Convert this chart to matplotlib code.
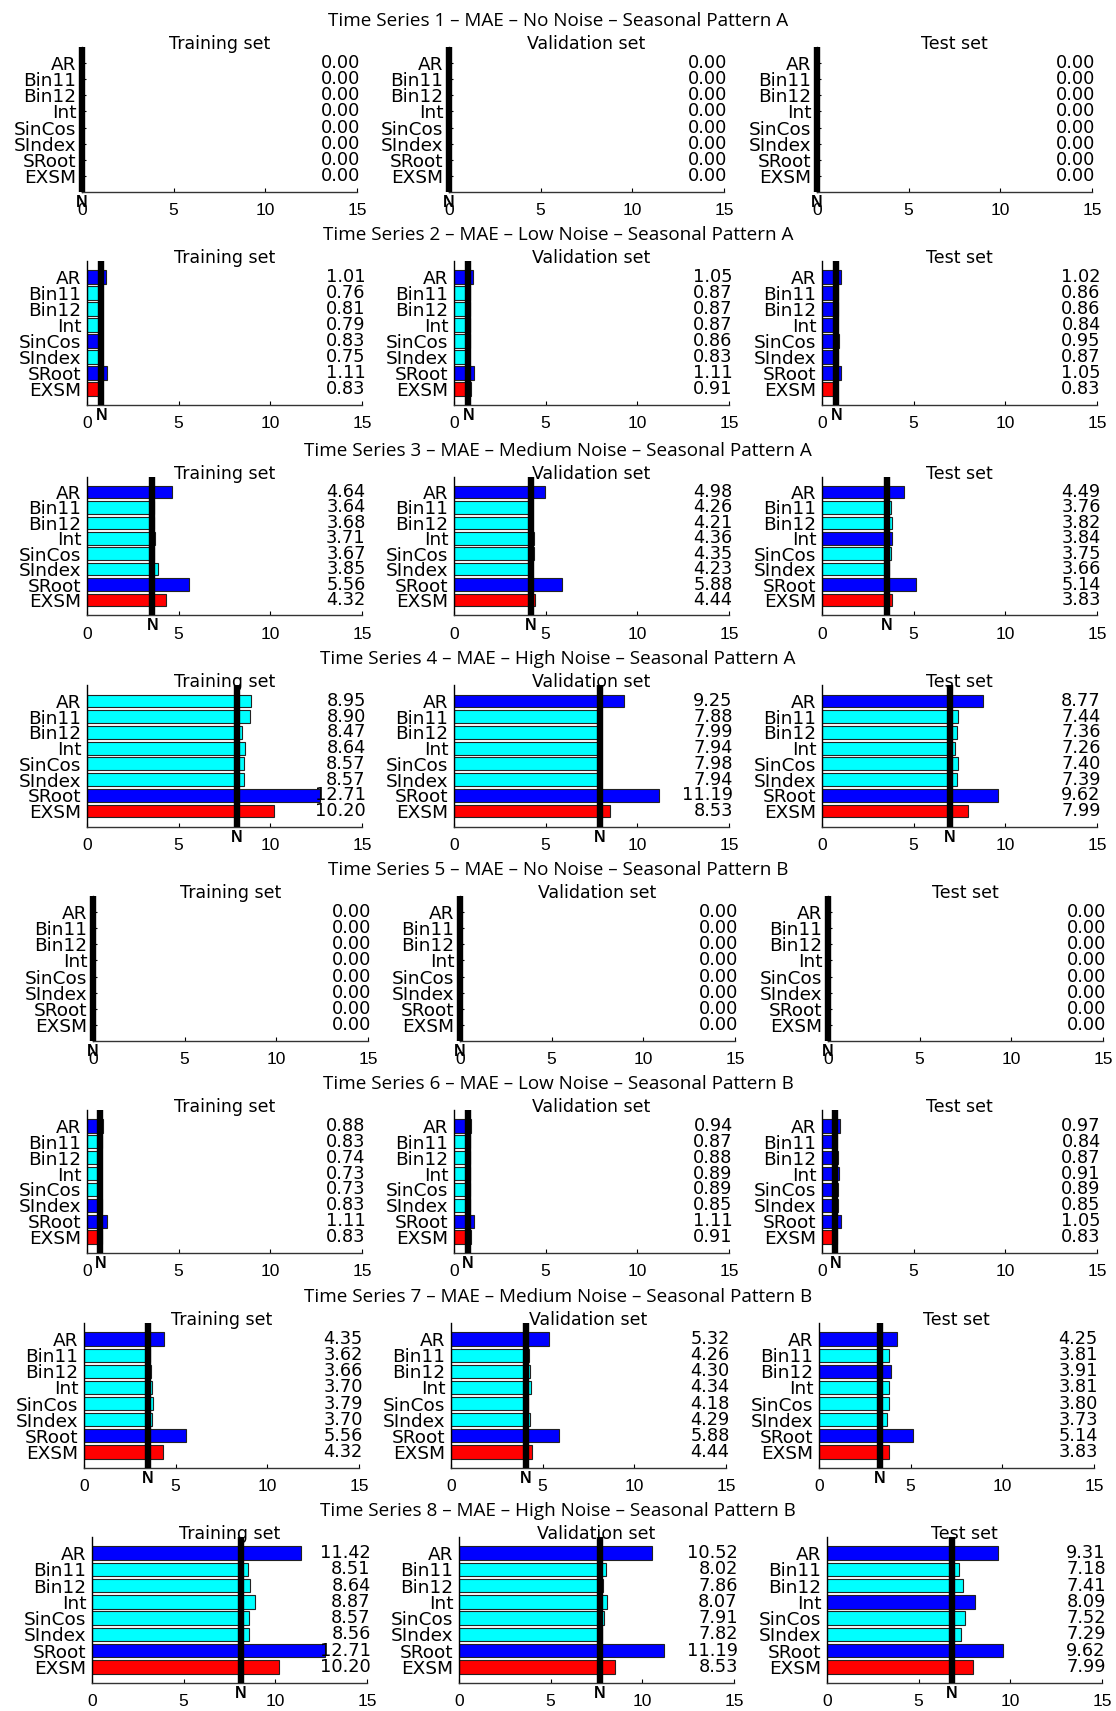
import matplotlib
matplotlib.use("Agg")
import matplotlib.pyplot as plt
from matplotlib.transforms import offset_copy

# ---------------- data ----------------
methods = ["AR", "Bin11", "Bin12", "Int", "SinCos", "SIndex", "SRoot", "EXSM"]
set_names = ["Training set", "Validation set", "Test set"]
noise_levels = ["No Noise", "Low Noise", "Medium Noise", "High Noise",
                "No Noise", "Low Noise", "Medium Noise", "High Noise"]
patterns = ["A", "A", "A", "A", "B", "B", "B", "B"]
x_ticks = [0, 5, 10, 15]

# MAE per method: [training, validation, test]
ts1_mae = [[0.00] * 8, [0.00] * 8, [0.00] * 8]
ts2_mae = [[1.01, 0.76, 0.81, 0.79, 0.83, 0.75, 1.11, 0.83],
           [1.05, 0.87, 0.87, 0.87, 0.86, 0.83, 1.11, 0.91],
           [1.02, 0.86, 0.86, 0.84, 0.95, 0.87, 1.05, 0.83]]
ts3_mae = [[4.64, 3.64, 3.68, 3.71, 3.67, 3.85, 5.56, 4.32],
           [4.98, 4.26, 4.21, 4.36, 4.35, 4.23, 5.88, 4.44],
           [4.49, 3.76, 3.82, 3.84, 3.75, 3.66, 5.14, 3.83]]
ts4_mae = [[8.95, 8.90, 8.47, 8.64, 8.57, 8.57, 12.71, 10.20],
           [9.25, 7.88, 7.99, 7.94, 7.98, 7.94, 11.19, 8.53],
           [8.77, 7.44, 7.36, 7.26, 7.40, 7.39, 9.62, 7.99]]
ts5_mae = [[0.00] * 8, [0.00] * 8, [0.00] * 8]
ts6_mae = [[0.88, 0.83, 0.74, 0.73, 0.73, 0.83, 1.11, 0.83],
           [0.94, 0.87, 0.88, 0.89, 0.89, 0.85, 1.11, 0.91],
           [0.97, 0.84, 0.87, 0.91, 0.89, 0.85, 1.05, 0.83]]
ts7_mae = [[4.35, 3.62, 3.66, 3.70, 3.79, 3.70, 5.56, 4.32],
           [5.32, 4.26, 4.30, 4.34, 4.18, 4.29, 5.88, 4.44],
           [4.25, 3.81, 3.91, 3.81, 3.80, 3.73, 5.14, 3.83]]
ts8_mae = [[11.42, 8.51, 8.64, 8.87, 8.57, 8.56, 12.71, 10.20],
           [10.52, 8.02, 7.86, 8.07, 7.91, 7.82, 11.19, 8.53],
           [9.31, 7.18, 7.41, 8.09, 7.52, 7.29, 9.62, 7.99]]
all_mae = [ts1_mae, ts2_mae, ts3_mae, ts4_mae, ts5_mae, ts6_mae, ts7_mae, ts8_mae]

# naive benchmark (N) per time series: [training, validation, test]
naive_mae = [[0.00, 0.00, 0.00],
             [0.78, 0.78, 0.78],
             [3.57, 4.21, 3.54],
             [8.18, 7.95, 6.98],
             [0.00, 0.00, 0.00],
             [0.73, 0.74, 0.72],
             [3.50, 4.10, 3.33],
             [8.13, 7.70, 6.80]]

# bar class per method: B = blue, C = cyan, R = red (EXSM)
ts1_cls = ["BBBBBBBR"] * 3
ts2_cls = ["BCCCBCBR", "BCCCCCBR", "BBBBBBBR"]
ts3_cls = ["BCCCCCBR", "BCCCCCBR", "BCCBCCBR"]
ts4_cls = ["CCCCCCBR", "BCCCCCBR", "BCCCCCBR"]
ts5_cls = ["BBBBBBBR"] * 3
ts6_cls = ["BCCCCBBR", "BCCCCCBR", "BBBBBBBR"]
ts7_cls = ["BCCCCCBR", "BCCCCCBR", "BCBCCCBR"]
ts8_cls = ["BCCCCCBR", "BCCCCCBR", "BCCBCCBR"]
all_cls = [ts1_cls, ts2_cls, ts3_cls, ts4_cls, ts5_cls, ts6_cls, ts7_cls, ts8_cls]
cls_color = {"B": "#0000FF", "C": "#00FFFF", "R": "#FF0000"}

# ---------------- layout (pixels) ----------------
W, H = 1116, 1711
fig = plt.figure(figsize=(W / 100, H / 100), dpi=100)

row_left = [82, 87, 87, 87, 93, 87, 84, 92]
col_off = [0, 367, 735]
axw = 275
ar_center = [63, 277, 492, 701, 912, 1126, 1339, 1553]
exsm_center = [176, 389, 600, 811, 1025, 1237, 1452, 1667]

ypos = list(range(8, 0, -1))

for r in range(8):
    s = (exsm_center[r] - ar_center[r]) / 7.0
    top = ar_center[r] - s
    bot = exsm_center[r] + s
    for c in range(3):
        left = row_left[r] + col_off[c]
        ax = fig.add_axes([left / W, 1 - bot / H, axw / W, (bot - top) / H])
        vals = all_mae[r][c]
        cols = [cls_color[k] for k in all_cls[r][c]]
        ax.barh(ypos, vals, height=0.82, color=cols, edgecolor="#222222",
                linewidth=0.8, zorder=2)
        nv = naive_mae[r][c]
        ax.plot([nv, nv], [0, 9], color="black", lw=4.6, solid_capstyle="butt",
                zorder=4, clip_on=False)
        ax.set_xlim(0, 15)
        ax.set_ylim(0, 9)
        ax.set_yticks(ypos)
        ax.set_yticklabels(methods, fontsize=13.3, family="DejaVu Sans")
        ax.set_xticks(x_ticks)
        ax.set_xticklabels([str(t) for t in x_ticks], fontsize=12.5,
                           family="Liberation Sans")
        ax.tick_params(axis="y", direction="in", length=3, pad=4, width=0.8)
        ax.tick_params(axis="x", direction="in", length=3, pad=8, width=0.8)
        for sp in ["top", "right"]:
            ax.spines[sp].set_visible(False)
        ax.spines["left"].set_linewidth(1.0)
        ax.spines["bottom"].set_linewidth(1.0)
        ax.spines["bottom"].set_color("#333333")
        for y, v in zip(ypos, vals):
            ax.text(15.2, y, f"{v:.2f}", ha="right", va="center",
                    fontsize=12.8, family="DejaVu Sans", zorder=5)
        ax.set_title(set_names[c], fontsize=12.5, family="DejaVu Sans",
                     y=1.0, pad=-1.5)
        tr = offset_copy(ax.get_xaxis_transform(), fig=fig, x=0, y=-3,
                         units="dots")
        ax.text(nv, 0, "N", transform=tr, ha="center", va="top",
                fontsize=11.5, fontweight="bold", family="Liberation Sans",
                zorder=6)
    fig.text(0.5, 1 - (top - 21) / H,
             f"Time Series {r + 1} \u2013 MAE \u2013 {noise_levels[r]} \u2013 "
             f"Seasonal Pattern {patterns[r]}",
             ha="center", va="baseline", fontsize=13.6, family="Open Sans")

fig.savefig("out.png", dpi=100)
